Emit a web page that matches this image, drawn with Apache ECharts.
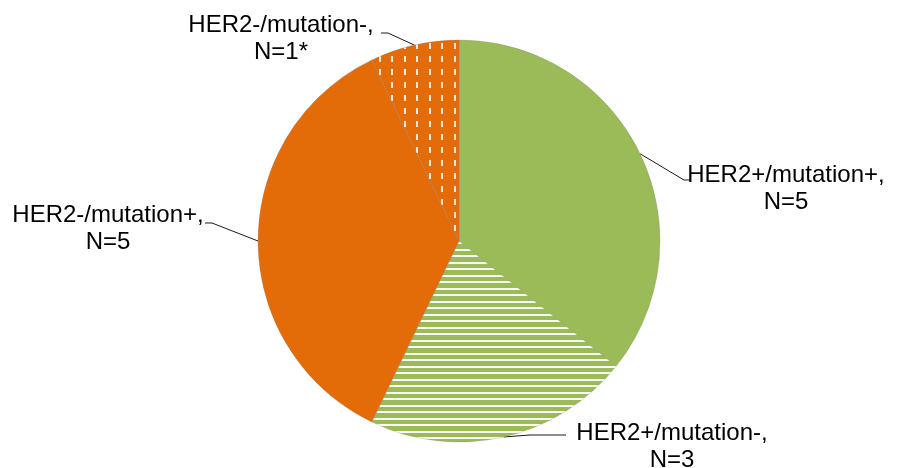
<!DOCTYPE html>
<html>
<head>
<meta charset="utf-8">
<script src="https://cdn.jsdelivr.net/npm/echarts@6/dist/echarts.min.js"></script>
<style>
  html, body { margin: 0; padding: 0; background: #fff; }
  #main { width: 899px; height: 468px; }
</style>
</head>
<body>
<div id="main"></div>
<script>
// slices, clockwise from 12 o'clock
var names = ['HER2+/mutation+', 'HER2+/mutation-', 'HER2-/mutation+', 'HER2-/mutation-'];
var counts = [5, 3, 5, 1];
var labelTexts = ['HER2+/mutation+,\nN=5', 'HER2+/mutation-,\nN=3', 'HER2-/mutation+,\nN=5', 'HER2-/mutation-,\nN=1*'];

var GREEN = '#9bbb59';
var ORANGE = '#e36c09';

// horizontal white stripes on green
function stripePattern() {
    var c = document.createElement('canvas');
    c.width = 4;
    c.height = 13;
    var ctx = c.getContext('2d');
    ctx.fillStyle = GREEN;
    ctx.fillRect(0, 0, 4, 13);
    ctx.fillStyle = 'rgba(255,255,255,0.95)';
    ctx.fillRect(0, 2, 4, 2);
    ctx.fillRect(0, 8, 4, 2);
    return c;
}

// small vertical white dashes on orange
function dashPattern() {
    var c = document.createElement('canvas');
    c.width = 25;
    c.height = 26;
    var ctx = c.getContext('2d');
    ctx.fillStyle = ORANGE;
    ctx.fillRect(0, 0, 25, 26);
    ctx.fillStyle = 'rgba(255,255,255,0.85)';
    ctx.fillRect(4, 4, 2, 6);
    ctx.fillRect(16, 4, 2, 6);
    ctx.fillRect(4, 17, 2, 6);
    ctx.fillRect(16, 17, 2, 6);
    return c;
}

var fills = [
    GREEN,
    {image: stripePattern(), repeat: 'repeat'},
    ORANGE,
    {image: dashPattern(), repeat: 'repeat'}
];

// label block centre and leader elbow/end for each slice
var labelPos = [
    {x: 786, y: 189, elbow: [684, 180], end: [690, 180]},
    {x: 672, y: 447, elbow: [530, 435], end: [566, 435]},
    {x: 108, y: 229, elbow: [212, 223], end: [205, 223]},
    {x: 281, y: 39, elbow: [388, 33], end: [381, 33]}
];

var data = [];
for (var i = 0; i < names.length; i++) {
    data.push({
        name: names[i],
        value: counts[i],
        itemStyle: {color: fills[i]},
        label: {formatter: labelTexts[i]}
    });
}

var option = {
    animation: false,
    series: [{
        type: 'pie',
        center: [459, 241],
        radius: 201,
        startAngle: 90,
        clockwise: true,
        avoidLabelOverlap: false,
        itemStyle: {borderWidth: 1, borderColor: 'rgba(120,120,120,0.25)'},
        label: {
            show: true,
            position: 'outside',
            color: '#000',
            fontFamily: 'Liberation Sans, Arial, sans-serif',
            fontSize: 24,
            lineHeight: 27,
            align: 'center'
        },
        labelLine: {
            show: true,
            length: 20,
            length2: 10,
            lineStyle: {color: '#1a1a1a', width: 1}
        },
        labelLayout: function (params) {
            var p = labelPos[params.dataIndex];
            var start = params.labelLinePoints ? params.labelLinePoints[0] : p.elbow;
            return {
                x: p.x,
                y: p.y,
                align: 'center',
                verticalAlign: 'middle',
                labelLinePoints: [start, p.elbow, p.end]
            };
        },
        data: data
    }]
};

var myChart = echarts.init(document.getElementById('main'));
myChart.setOption(option);
</script>
</body>
</html>
